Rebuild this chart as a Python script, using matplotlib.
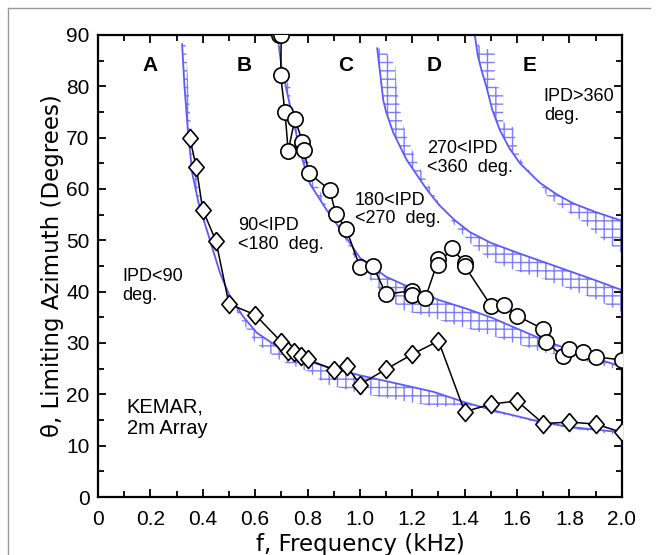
import numpy as np
import matplotlib.pyplot as plt
from matplotlib.lines import Line2D
from matplotlib.ticker import MultipleLocator, FuncFormatter

plt.rcParams['font.family'] = ['Liberation Sans', 'DejaVu Sans']
plt.rcParams['hatch.linewidth'] = 1.0

# measured limiting azimuths (diamonds)
freq_d = [0.35, 0.375, 0.40, 0.45, 0.50, 0.60, 0.70, 0.725, 0.75, 0.775, 0.80,
          0.90, 0.95, 1.00, 1.10, 1.20, 1.30, 1.40, 1.50, 1.60, 1.70, 1.80,
          1.90, 2.00]
theta_d = [70.0, 64.3, 55.9, 49.9, 37.6, 35.5, 30.2, 28.5, 28.2, 27.5, 26.8,
           24.8, 25.5, 21.9, 24.9, 27.8, 30.4, 16.6, 18.1, 18.7, 14.3, 14.6,
           14.2, 12.6]

# measured limiting azimuths (circles)
freq_c = [0.69, 0.70, 0.697, 0.714, 0.726, 0.752, 0.78, 0.786, 0.805, 0.885,
          0.908, 0.947, 1.00, 1.05, 1.10, 1.20, 1.20, 1.25, 1.30, 1.30, 1.35,
          1.40, 1.40, 1.50, 1.55, 1.60, 1.70, 1.71, 1.775, 1.80, 1.85, 1.90,
          2.00]
theta_c = [90.0, 90.0, 82.2, 74.9, 67.4, 73.7, 69.2, 67.5, 63.1, 59.8,
           55.1, 52.3, 44.8, 45.0, 39.5, 40.2, 39.4, 38.8, 46.3, 45.2, 48.5,
           45.6, 45.0, 37.3, 37.4, 35.3, 32.7, 30.1, 27.5, 28.8, 28.3, 27.3,
           26.7]

# IPD boundary curves (blue lines)
ipd90_f = [0.321, 0.330, 0.344, 0.360, 0.385, 0.427, 0.466, 0.504, 0.555,
           0.606, 0.690, 0.780, 0.870, 1.000, 1.150, 1.280, 1.410, 1.530,
           1.660, 1.790, 2.000]
ipd90_th = [88.2, 80.0, 70.8, 63.0, 57.0, 50.1, 43.6, 39.0, 35.1, 32.0, 29.1,
            26.8, 25.4, 23.7, 22.0, 20.5, 18.3, 16.6, 15.0, 13.7, 12.6]

ipd180_f = [0.690, 0.700, 0.713, 0.745, 0.777, 0.809, 0.873, 0.936, 1.000,
            1.100, 1.200, 1.300, 1.400, 1.500, 1.600, 1.700, 1.800, 1.900,
            2.000]
ipd180_th = [88.0, 84.0, 80.9, 73.4, 66.3, 61.0, 55.9, 51.4, 46.6, 42.9, 40.6,
             38.4, 36.8, 35.0, 32.8, 30.6, 28.7, 27.0, 25.4]

ipd270_f = [1.066, 1.075, 1.089, 1.100, 1.127, 1.178, 1.254, 1.300, 1.360,
            1.420, 1.500, 1.600, 1.700, 1.800, 1.900, 2.000]
ipd270_th = [87.4, 83.5, 77.3, 75.0, 71.0, 65.7, 60.0, 57.0, 54.0, 51.6, 49.5,
             47.6, 45.8, 44.0, 42.2, 40.3]

ipd360_f = [1.439, 1.450, 1.465, 1.483, 1.505, 1.534, 1.570, 1.611, 1.687,
            1.750, 1.814, 1.900, 2.000]
ipd360_th = [89.8, 86.0, 83.0, 79.9, 75.5, 71.5, 68.0, 65.0, 61.2, 59.0, 57.2,
             55.5, 53.8]

# other edge of each hatched band
band90_f = [0.335, 0.35, 0.36, 0.39, 0.43, 0.48, 0.53, 0.60, 0.70, 0.80, 0.87,
            1.00, 1.19, 1.30, 1.40, 1.55, 1.70, 1.85, 2.00]
band90_th = [88.0, 76.0, 68.0, 58.0, 49.0, 41.5, 36.0, 30.0, 26.5, 24.5, 22.0,
             20.2, 18.5, 17.5, 18.0, 16.0, 14.3, 13.0, 12.0]

band180_f = [0.713, 0.735, 0.735, 0.75, 0.80, 0.835, 0.88, 0.93, 1.00, 1.10,
             1.17, 1.27, 1.40, 1.50, 1.60, 1.69, 1.80, 1.90, 2.00]
band180_th = [81.0, 80.5, 76.0, 73.0, 66.0, 61.0, 56.0, 51.5, 44.5, 39.0,
              36.3, 35.0, 33.0, 31.5, 29.8, 28.3, 27.3, 25.9, 24.6]

band270_f = [1.09, 1.135, 1.14, 1.16, 1.18, 1.22, 1.26, 1.30, 1.36, 1.42, 1.50,
             1.60, 1.70, 1.80, 1.90, 2.00]
band270_th = [87.4, 84.0, 80.0, 73.5, 70.0, 65.0, 61.0, 57.5, 53.0, 49.5, 46.0,
              44.0, 42.5, 40.5, 38.5, 36.0]

band360_f = [1.46, 1.515, 1.515, 1.547, 1.547, 1.585, 1.61, 1.64, 1.68, 1.712,
             1.78, 1.84, 1.92, 2.00]
band360_th = [87.5, 87.0, 80.0, 79.5, 73.0, 72.0, 66.0, 64.0, 61.5, 58.8, 56.0,
              54.0, 50.5, 47.5]

region_labels = ['A', 'B', 'C', 'D', 'E']
region_f = [0.20, 0.558, 0.946, 1.283, 1.649]

line_blue = '#5a5aff'
hatch_blue = '#7c7cff'

fig = plt.figure(figsize=(6.58, 5.55), dpi=100)
ax = fig.add_axes([0.149, 0.1045, 0.796, 0.8325])

curves = [(ipd90_f, ipd90_th, band90_f, band90_th),
          (ipd180_f, ipd180_th, band180_f, band180_th),
          (ipd270_f, ipd270_th, band270_f, band270_th),
          (ipd360_f, ipd360_th, band360_f, band360_th)]
for cf, cth, bf, bth in curves:
    px = np.concatenate([cf, bf[::-1]])
    py = np.concatenate([cth, bth[::-1]])
    ax.fill(px, py, facecolor='none', edgecolor=hatch_blue, lw=0,
            hatch='++', zorder=1)
    ax.plot(cf, cth, color=line_blue, lw=1.3, zorder=2)

diamond = [(0, 1), (0.85, 0), (0, -1), (-0.85, 0), (0, 1)]
ax.plot(freq_d, theta_d, color='black', lw=1.1, marker=diamond, ms=13,
        mfc='white', mec='black', mew=1.2, zorder=4)
ax.plot(freq_c, theta_c, color='black', lw=1.1, marker='o', ms=11,
        mfc='white', mec='black', mew=1.2, zorder=3)

for lab, f in zip(region_labels, region_f):
    ax.text(f, 84.0, lab, ha='center', va='center', fontsize=15,
            fontweight='bold')

note = dict(fontsize=13, ha='left', va='top', linespacing=1.15)
ax.text(0.092, 44.6, 'IPD<90\ndeg.', **note)
ax.text(0.535, 54.6, '90<IPD\n<180  deg.', **note)
ax.text(0.981, 59.5, '180<IPD\n<270  deg.', **note)
ax.text(1.255, 69.5, '270<IPD\n<360  deg.', **note)
ax.text(1.702, 79.6, 'IPD>360\ndeg.', **note)
ax.text(0.109, 19.3, 'KEMAR,\n2m Array', fontsize=14.5, ha='left', va='top',
        linespacing=1.15)

ax.set_xlim(0, 2.0)
ax.set_ylim(0, 90)
ax.xaxis.set_major_locator(MultipleLocator(0.2))
ax.xaxis.set_minor_locator(MultipleLocator(0.1))
ax.yaxis.set_major_locator(MultipleLocator(10))
ax.yaxis.set_minor_locator(MultipleLocator(5))
ax.xaxis.set_major_formatter(
    FuncFormatter(lambda v, p: '0' if abs(v) < 1e-9 else f'{v:.1f}'))
ax.tick_params(which='both', direction='in', top=True, right=True,
               width=1.3, labelsize=15)
ax.tick_params(which='major', length=6)
ax.tick_params(axis='x', which='major', pad=9)
ax.tick_params(axis='y', which='major', pad=6)
ax.tick_params(which='minor', length=4)
for s in ax.spines.values():
    s.set_linewidth(1.6)

ax.set_xlabel('f, Frequency (kHz)', fontsize=16.5, family='DejaVu Sans',
              labelpad=3)
ax.set_ylabel('θ, Limiting Azimuth (Degrees)', fontsize=16.5,
              family='DejaVu Sans', labelpad=2)

# thin grey frame on the left and top of the figure
fig.add_artist(Line2D([0.012, 0.012], [0.0, 0.9856], color='#999999', lw=1))
fig.add_artist(Line2D([0.012, 0.988], [0.9856, 0.9856], color='#999999', lw=1))

fig.savefig('out.png', dpi=100)
